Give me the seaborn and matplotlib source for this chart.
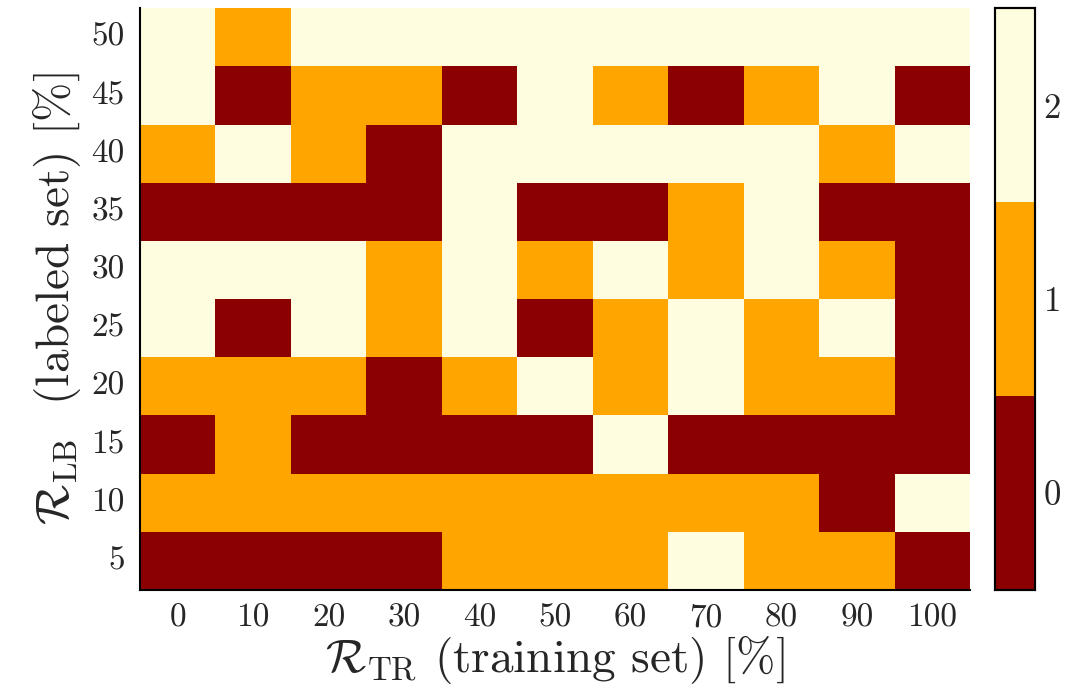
import numpy as np
import pandas as pd
import matplotlib
matplotlib.use("Agg")
import matplotlib.pyplot as plt
import seaborn as sns
from matplotlib.colors import ListedColormap

# Data
train_ratio = [0, 10, 20, 30, 40, 50, 60, 70, 80, 90, 100]
labeled_ratio = [50, 45, 40, 35, 30, 25, 20, 15, 10, 5]
row_50 = [2, 1, 2, 2, 2, 2, 2, 2, 2, 2, 2]
row_45 = [2, 0, 1, 1, 0, 2, 1, 0, 1, 2, 0]
row_40 = [1, 2, 1, 0, 2, 2, 2, 2, 2, 1, 2]
row_35 = [0, 0, 0, 0, 2, 0, 0, 1, 2, 0, 0]
row_30 = [2, 2, 2, 1, 2, 1, 2, 1, 2, 1, 0]
row_25 = [2, 0, 2, 1, 2, 0, 1, 2, 1, 2, 0]
row_20 = [1, 1, 1, 0, 1, 2, 1, 2, 1, 1, 0]
row_15 = [0, 1, 0, 0, 0, 0, 2, 0, 0, 0, 0]
row_10 = [1, 1, 1, 1, 1, 1, 1, 1, 1, 0, 2]
row_5 = [0, 0, 0, 0, 1, 1, 1, 2, 1, 1, 0]
cbar_ticks = [0, 1, 2]

df = pd.DataFrame([row_50, row_45, row_40, row_35, row_30, row_25,
                   row_20, row_15, row_10, row_5],
                  index=labeled_ratio, columns=train_ratio)

sns.set_style("white")
plt.rcParams['font.family'] = ['cmr10', 'DejaVu Serif']
plt.rcParams['mathtext.fontset'] = 'cm'
plt.rcParams['axes.formatter.use_mathtext'] = True

cmap = ListedColormap(['#8b0000', '#ffa500', '#fffde0'])

fig = plt.figure(figsize=(10.66, 6.94), dpi=100)
ax = fig.add_axes([0.1313, 0.1499, 0.7787, 0.8381])
cax = fig.add_axes([0.9334, 0.1499, 0.0375, 0.8381])

sns.heatmap(df, ax=ax, cbar_ax=cax, cmap=cmap, vmin=-0.5, vmax=2.5,
            cbar_kws={'ticks': cbar_ticks})

ax.tick_params(axis='both', length=0, labelsize=24)
ax.tick_params(axis='y', pad=11)
ax.tick_params(axis='x', pad=10)
ax.set_yticklabels([str(v) for v in labeled_ratio], rotation=0)
ax.set_xticklabels([str(v) for v in train_ratio], rotation=0)
for side in ['left', 'bottom']:
    ax.spines[side].set_visible(True)
    ax.spines[side].set_color('black')
    ax.spines[side].set_linewidth(1.5)
ax.set_xlabel(r'$\mathcal{R}_{\rm TR}$ (training set) [%]', fontsize=34, labelpad=0)
ax.set_ylabel(r'$\mathcal{R}_{\rm LB}$  (labeled set) [%]', fontsize=34, labelpad=6)

cax.tick_params(length=0, labelsize=25, pad=6)
for s in cax.spines.values():
    s.set_visible(True)
    s.set_color('black')
    s.set_linewidth(1.5)

fig.savefig('out.png', dpi=100)
